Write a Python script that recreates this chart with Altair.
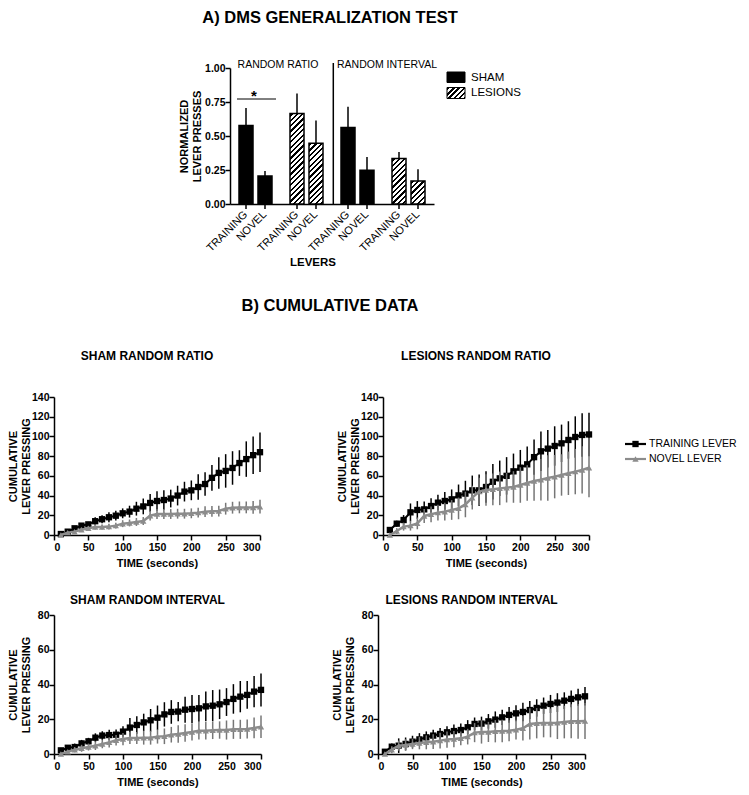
import math
import altair as alt
import pandas as pd

FONT = "Liberation Sans"

# ---------------- Panel A data ----------------
groups = ["RR_SHAM", "RR_LESIONS", "RI_SHAM", "RI_LESIONS"]
group_treat = ["SHAM", "LESIONS", "SHAM", "LESIONS"]
levers = ["TRAINING", "NOVEL"]
bar_means = [0.577, 0.206, 0.666, 0.447, 0.563, 0.248, 0.334, 0.170]
bar_sems = [0.128, 0.037, 0.147, 0.167, 0.152, 0.098, 0.049, 0.086]
section_labels = ["RANDOM RATIO", "RANDOM INTERVAL"]
legend_a = ["SHAM", "LESIONS"]

# ---------------- Panel B data ----------------
times = list(range(10, 301, 10))

sham_rr_train = [1, 3.4, 6.8, 9.5, 10.8, 14, 16, 18, 19.6, 22, 23.7, 26.7, 29, 32.5, 34.5,
                 35.5, 37, 40, 44, 45.3, 48.7, 51.7, 58, 63, 65, 68, 73, 77, 81, 84]
sham_rr_train_err = [0.5, 1.5, 2, 2.5, 2.5, 4, 4, 5, 5, 5, 6, 7, 8, 9, 10,
                     10, 9, 10, 10, 10, 13, 12, 13, 16, 17, 17, 13, 18, 19, 20]
sham_rr_novel = [0, 2.4, 3.4, 5.4, 6.8, 8.1, 8.1, 8.5, 9.5, 11.5, 12.2, 13.2, 14.2, 19.6, 21.3,
                 21.3, 21.3, 21.6, 21.6, 22, 22.7, 23.7, 24, 24.3, 26.7, 27.7, 28, 28, 28, 28.7]
sham_rr_novel_err = [0.5, 1, 1.5, 2, 2, 2.5, 2.5, 3, 3, 3.5, 3.5, 4, 4, 5, 5,
                     5, 5, 5, 5, 5, 5, 5.5, 5.5, 5.5, 6, 6, 6, 6, 6.5, 7]

les_rr_train = [5.1, 11.5, 15.2, 23, 25.4, 26, 29.4, 32.8, 34.5, 36.2, 40.2, 42, 45.3, 45.3, 48.7,
                54, 57.5, 60, 64.6, 68.3, 71.7, 79, 84.9, 87.6, 90.3, 93, 96.4, 99.4, 101.5, 102]
les_rr_train_err = [2, 3, 5, 9, 9, 8, 8, 8, 9, 10, 11, 13, 15, 16, 16,
                    18, 18, 19, 18, 18, 18, 18, 20, 19, 20, 19, 19, 21, 22, 22]
les_rr_novel = [0, 4, 8.5, 9.5, 11.8, 19.3, 21, 22.7, 23.7, 25.4, 27, 31, 37.9, 44, 45.7,
                46.3, 47.3, 48, 48.7, 50.7, 52.8, 54.8, 56.1, 57.8, 59.2, 60.9, 62.6, 64.3, 66, 68.3]
les_rr_novel_err = [1, 3, 4, 5, 6, 7, 8, 8, 9, 10, 11, 13, 12, 14, 16,
                    16, 17, 15, 16, 18, 18, 20, 21, 23, 22, 21, 22, 23, 24, 30]

sham_ri_train = [2.1, 3.6, 4.0, 6.1, 7.3, 9.4, 10.6, 10.9, 11.1, 12.9, 15.2, 16.7, 18.2, 19.4, 20.9,
                 22.8, 24.2, 24.4, 25.5, 25.9, 26.3, 27.4, 27.8, 28.6, 29.9, 31.7, 33, 34, 35.9, 36.9]
sham_ri_train_err = [0.5, 0.8, 2, 2, 2, 2.5, 2.5, 3, 3, 3, 5.5, 5, 5, 6.5, 7,
                     7, 6.8, 5.6, 7.5, 8, 7.7, 8.5, 9, 8.5, 8, 8.5, 9, 8, 9, 9.5]
sham_ri_novel = [0, 1.3, 2.5, 3.3, 4.0, 4.8, 5.8, 6.7, 7.9, 8.6, 9.2, 9.2, 9.4, 9.4, 10,
                 10.2, 11.1, 11.5, 12.1, 12.7, 13.4, 13.4, 13.6, 13.8, 13.8, 14.2, 14.2, 14.4, 15, 15.7]
sham_ri_novel_err = [0.5, 1, 1.5, 2, 2, 2.5, 2.5, 3, 3, 3.5, 3.5, 3.5, 4, 4, 4,
                     4.5, 4.5, 5, 5, 5, 5, 5, 5, 5, 5.5, 5.5, 5.5, 5.5, 6, 6.5]

les_ri_train = [1.3, 4.2, 4.8, 5.8, 7.1, 8.4, 9.6, 10.6, 11.5, 12.5, 13.2, 13.8, 15.4, 17.3, 17.5,
                18.8, 19.8, 21.1, 22.5, 23.4, 24.2, 25.3, 26.5, 27.8, 28.8, 29.6, 30.7, 31.7, 32.6, 33.2]
les_ri_train_err = [0.7, 1.8, 4.2, 3.7, 3.4, 3.6, 3.4, 3.4, 3.5, 3.5, 3.8, 3.7, 4.1, 3.7, 4,
                    4.2, 4.7, 4.4, 4.5, 4.6, 5.3, 5.2, 5, 4.7, 5.2, 5.4, 4.8, 4.8, 4.9, 5.3]
les_ri_novel = [0, 2.5, 4.8, 5.2, 5.8, 6.3, 6.7, 7.1, 7.7, 8.3, 8.6, 9.0, 10, 12.3, 12.7,
                12.7, 13.1, 13.2, 13.4, 14, 14.8, 17.3, 17.7, 17.9, 17.9, 18, 18.4, 18.8, 18.8, 19]
les_ri_novel_err = [0, 2, 2.9, 3.3, 3, 3.6, 4, 4.2, 4.5, 4.7, 4.7, 4, 4.5, 5.5, 6.7,
                    5.8, 6.4, 6.5, 6, 5.7, 7, 9, 8.7, 8.3, 8.3, 9.4, 9.4, 9.8, 10, 10.4]

series_names = ["TRAINING LEVER", "NOVEL LEVER"]
panel_titles = ["SHAM RANDOM RATIO", "LESIONS RANDOM RATIO",
                "SHAM RANDOM INTERVAL", "LESIONS RANDOM INTERVAL"]

# ---------------- styles ----------------
GRAY = "#8c8c8c"
GRAY_ERR = "#767676"
one = pd.DataFrame({"k": [0]})


def txt(text, x, y, size=11, weight="normal", align="center", baseline="middle", angle=0):
    kw = dict(text=text, font=FONT, fontSize=size, fontWeight=weight, align=align,
              baseline=baseline, color="black")
    if angle:
        kw["angle"] = angle
    return alt.Chart(one).mark_text(**kw).encode(x=alt.value(x), y=alt.value(y))


def hatch(w, h, period=3.8, frac=0.42):
    L = (w + h) / math.sqrt(2)
    n = L / period
    k = (w + h) / (w * w + h * h)
    stops = [alt.GradientStop(color="white", offset=0)]
    i = 0
    while True:
        a = (i + 0.25) / n
        if a >= 1:
            break
        b = min((i + 0.25 + frac) / n, 1)
        stops += [alt.GradientStop(color="white", offset=a), alt.GradientStop(color="black", offset=a),
                  alt.GradientStop(color="black", offset=b), alt.GradientStop(color="white", offset=b)]
        i += 1
    stops.append(alt.GradientStop(color="white", offset=1))
    return alt.LinearGradient(gradient="linear", stops=stops, x1=0, y1=0, x2=w * k, y2=h * k)


# ---------------- Panel A chart ----------------
WA, HA = 204, 136
rows = []
for gi, g in enumerate(groups):
    for li, l in enumerate(levers):
        i = 2 * gi + li
        rows.append(dict(idx=i, group=g, treat=group_treat[gi], lever=l,
                         mean=bar_means[i], hi=bar_means[i] + bar_sems[i]))
dfA = pd.DataFrame(rows)

xA = alt.X("group:N", sort=groups, scale=alt.Scale(paddingInner=0, paddingOuter=0),
           axis=alt.Axis(labels=False, ticks=False, title=None))
xoA = alt.XOffset("lever:N", sort=levers, scale=alt.Scale(paddingInner=0.263, paddingOuter=0.474))
yA_axis = alt.Axis(values=[0, 0.25, 0.5, 0.75, 1.0], format=".2f", labelOverlap=False,
                   title=["NORMALIZED", "LEVER PRESSES"], labelPadding=0, tickSize=5,
                   titleX=-45.5, titleBaseline="middle", titleLineHeight=12.5)
yA_scale = alt.Scale(domain=[0, 1], nice=False)


def yA(field=None, datum=None):
    if datum is not None:
        return alt.Y(datum=datum, scale=yA_scale, axis=yA_axis)
    return alt.Y(field, scale=yA_scale, axis=yA_axis)


layersA = []
# error bars (upward only)
layersA.append(alt.Chart(dfA).mark_rule(color="black", strokeWidth=1.5).encode(
    x=xA, xOffset=xoA, y=yA("mean:Q"), y2="hi:Q"))
# sham bars
layersA.append(alt.Chart(dfA[dfA.treat == "SHAM"]).mark_bar(
    fill="black", stroke="black", strokeWidth=1.5).encode(
    x=xA, xOffset=xoA, y=yA("mean:Q")))
# hatched lesion bars
bar_w = 14.0
for i in range(8):
    if group_treat[i // 2] != "LESIONS":
        continue
    hpx = bar_means[i] * HA
    layersA.append(alt.Chart(dfA[dfA.idx == i]).mark_bar(
        fill=hatch(bar_w, hpx), stroke="black", strokeWidth=1.5).encode(
        x=xA, xOffset=xoA, y=yA("mean:Q")))
# tick marks under each bar
layersA.append(alt.Chart(dfA).mark_rule(color="black", strokeWidth=1.5).encode(
    x=xA, xOffset=xoA, y=alt.value(HA), y2=alt.value(HA + 5)))
# rotated lever labels
layersA.append(alt.Chart(dfA).mark_text(
    angle=315, align="right", baseline="middle", font=FONT, fontSize=11, color="black").encode(
    x=xA, xOffset=xoA, y=alt.value(HA + 9), text="lever:N"))
# divider between schedules
layersA.append(alt.Chart(one).mark_rule(color="black", strokeWidth=1.5).encode(
    x=alt.value(WA / 2 + 1.3), y=alt.value(-5), y2=alt.value(HA)))
# significance line + asterisk
layersA.append(alt.Chart(one).mark_rule(color="black", strokeWidth=1).encode(
    x=alt.value(7), x2=alt.value(46), y=yA(datum=0.772)))
layersA.append(alt.Chart(one).mark_text(
    text="*", font=FONT, fontSize=15, fontWeight="bold", baseline="alphabetic", color="black").encode(
    x=alt.value(24), y=yA(datum=0.76)))
# schedule labels
layersA.append(txt(section_labels[0], 48, -0.5, size=10.5, baseline="alphabetic"))
layersA.append(txt(section_labels[1], 157, -0.5, size=10.5, baseline="alphabetic"))
# legend
layersA.append(alt.Chart(one).mark_rect(fill="black", stroke="black", strokeWidth=1).encode(
    x=alt.value(217), x2=alt.value(235), y=alt.value(4), y2=alt.value(14.5)))
layersA.append(alt.Chart(one).mark_rect(fill=hatch(18, 11, period=3.6), stroke="black", strokeWidth=1).encode(
    x=alt.value(217), x2=alt.value(235), y=alt.value(19.5), y2=alt.value(30.5)))
layersA.append(txt(legend_a[0], 241, 9.5, size=11.5, align="left"))
layersA.append(txt(legend_a[1], 241, 25, size=11.5, align="left"))
# axis title and section titles
layersA.append(txt("LEVERS", 83, 195, size=11.5, weight="bold"))
layersA.append(txt("A) DMS GENERALIZATION TEST", 100, -50, size=16.5, weight="bold"))
layersA.append(txt("B) CUMULATIVE DATA", 100, 238, size=16.5, weight="bold"))

chartA = alt.layer(*layersA).properties(width=WA, height=HA)

# blank spacer that shifts panel A to the right
SPACER_W = 123
spacer = alt.Chart(one).mark_rule(color="white", strokeWidth=1).encode(
    x=alt.value(0), x2=alt.value(SPACER_W), y=alt.value(0)
).properties(width=SPACER_W, height=HA)


# ---------------- Panel B charts ----------------
def panel(train, terr, novel, nerr, ymax, title, W, H, title_y, legend=False):
    df = pd.DataFrame({
        "time": times * 2,
        "series": [series_names[0]] * len(times) + [series_names[1]] * len(times),
        "mean": train + novel,
        "err": terr + nerr,
    })
    df["lo"] = (df["mean"] - df["err"]).clip(lower=0)
    df["hi"] = df["mean"] + df["err"]
    x = alt.X("time:Q", scale=alt.Scale(domain=[0, 300], nice=False),
              axis=alt.Axis(values=list(range(0, 301, 50)), title="TIME (seconds)",
                            titlePadding=5, labelPadding=2, tickSize=5))
    ysc = alt.Scale(domain=[0, ymax], nice=False)
    yax = alt.Axis(values=list(range(0, ymax + 1, 20)), title=["CUMULATIVE", "LEVER PRESSING"],
                   labelPadding=0, tickSize=5, titleX=-41, titleBaseline="middle",
                   titleLineHeight=13.5)
    layers = []
    for s, col, ecol, shape, lw in [(series_names[0], "black", "black", "square", 2),
                                    (series_names[1], GRAY, GRAY_ERR, "triangle-up", 2.5)]:
        d = df[df.series == s]
        b = alt.Chart(d)
        layers.append(b.mark_rule(color=ecol, strokeWidth=1.5).encode(
            x=x, y=alt.Y("lo:Q", scale=ysc, axis=yax), y2="hi:Q"))
        layers.append(b.mark_line(color=col, strokeWidth=lw).encode(
            x=x, y=alt.Y("mean:Q", scale=ysc, axis=yax)))
        layers.append(b.mark_point(shape=shape, filled=True, size=40, color=col, opacity=1).encode(
            x=x, y=alt.Y("mean:Q", scale=ysc, axis=yax)))
    layers.append(txt(title, W / 2 - 10, title_y, size=12, weight="bold"))
    if legend:
        for j, (col, shape) in enumerate([("black", "square"), (GRAY, "triangle-up")]):
            yy = 47 + 15 * j
            layers.append(alt.Chart(one).mark_rule(color=col, strokeWidth=2.2).encode(
                x=alt.value(W + 36), x2=alt.value(W + 57), y=alt.value(yy)))
            layers.append(alt.Chart(one).mark_point(shape=shape, filled=True, size=40, color=col,
                                                    opacity=1).encode(
                x=alt.value(W + 46.5), y=alt.value(yy)))
            layers.append(txt(series_names[j], W + 60, yy, size=10.5, align="left"))
    return alt.layer(*layers).properties(width=W, height=H)


p1 = panel(sham_rr_train, sham_rr_train_err, sham_rr_novel, sham_rr_novel_err, 140,
           panel_titles[0], 206, 138, -41)
p2 = panel(les_rr_train, les_rr_train_err, les_rr_novel, les_rr_novel_err, 140,
           panel_titles[1], 206, 138, -41, legend=True)
p3 = panel(sham_ri_train, sham_ri_train_err, sham_ri_novel, sham_ri_novel_err, 80,
           panel_titles[2], 207, 139, -15)
p4 = panel(les_ri_train, les_ri_train_err, les_ri_novel, les_ri_novel_err, 80,
           panel_titles[3], 207, 139, -15)

row1 = alt.hconcat(spacer, chartA, spacing=0)
row2 = alt.hconcat(p1, p2, spacing=70)
row3 = alt.hconcat(p3, p4, spacing=64)

chart = alt.vconcat(row1, alt.vconcat(row2, row3, spacing=25), spacing=35).properties(
    padding={"left": -2, "top": 2, "right": 0, "bottom": 0}
).configure_view(stroke=None).configure_axis(
    grid=False, domainColor="black", domainWidth=1.5, tickColor="black", tickWidth=1.5,
    tickSize=5, labelFont=FONT, labelFontSize=10.5, labelFontWeight="bold", labelColor="black",
    titleFont=FONT, titleFontSize=11, titleFontWeight="bold", titleColor="black"
)

chart.save("out.html", embed_options={"renderer": "svg", "actions": False})
